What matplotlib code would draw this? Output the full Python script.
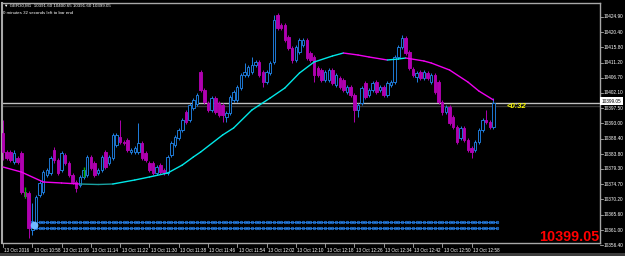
import matplotlib
matplotlib.use('Agg')
import matplotlib.pyplot as plt
from matplotlib.patches import Rectangle

plt.rcParams['font.family'] = ['Liberation Sans', 'DejaVu Sans']

# GER30 M1 bars, 13 Oct 10:50 .. 13:04 (one entry per minute)
opens = [10390.1, 10384.4, 10384.4, 10381.4, 10382.6, 10384.1, 10372.4, 10372.1, 10361.0, 10361.9,
         10371.5, 10372.4, 10377.5, 10378.1, 10385.0, 10382.0, 10379.0, 10383.5, 10381.1, 10377.5,
         10375.4, 10374.5, 10376.9, 10377.5, 10382.9, 10381.1, 10378.1, 10379.0, 10384.4, 10381.1,
         10382.6, 10386.5, 10388.9, 10387.4, 10388.0, 10384.4, 10384.4, 10384.4, 10387.1, 10384.1,
         10381.1, 10381.1, 10378.1, 10380.5, 10379.0, 10378.1, 10383.5, 10386.5, 10388.6, 10391.0,
         10396.4, 10394.0, 10397.6, 10398.8, 10408.4, 10403.0, 10399.1, 10397.0, 10400.6, 10399.1,
         10398.5, 10394.9, 10396.1, 10400.0, 10400.0, 10403.6, 10407.5, 10407.5, 10408.4, 10410.5,
         10411.4, 10408.4, 10405.4, 10408.1, 10411.4, 10425.5, 10422.5, 10422.5, 10418.9, 10415.6,
         10412.0, 10414.4, 10416.5, 10418.0, 10414.1, 10412.9, 10409.6, 10409.0, 10406.0, 10406.0,
         10409.0, 10404.5, 10406.6, 10406.0, 10402.4, 10403.9, 10401.5, 10397.0, 10399.1, 10405.1,
         10401.5, 10403.0, 10405.4, 10403.0, 10403.9, 10401.5, 10404.5, 10405.4, 10412.9, 10415.9,
         10418.6, 10414.4, 10409.3, 10406.9, 10408.4, 10406.6, 10408.1, 10405.4, 10407.5, 10405.4,
         10399.4, 10396.4, 10397.9, 10394.9, 10391.9, 10388.6, 10391.6, 10388.0, 10385.6, 10385.0,
         10387.4, 10391.0, 10394.0, 10393.4, 10391.9]
closes = [10384.4, 10382.6, 10382.0, 10384.1, 10381.4, 10372.4, 10371.2, 10361.6, 10362.5, 10370.9,
          10375.1, 10378.4, 10379.0, 10382.6, 10382.0, 10378.1, 10384.1, 10381.1, 10377.5, 10375.4,
          10373.6, 10376.9, 10379.0, 10382.9, 10379.6, 10377.5, 10379.0, 10382.9, 10379.9, 10382.9,
          10389.5, 10389.5, 10387.4, 10387.1, 10385.0, 10385.0, 10385.6, 10387.1, 10382.6, 10382.0,
          10379.0, 10378.1, 10379.9, 10378.4, 10378.1, 10382.9, 10387.1, 10388.9, 10391.0, 10394.0,
          10393.4, 10398.5, 10400.0, 10401.5, 10403.0, 10399.4, 10397.0, 10400.6, 10396.4, 10395.5,
          10395.5, 10396.1, 10400.9, 10402.4, 10403.9, 10407.5, 10408.4, 10409.9, 10410.5, 10411.4,
          10407.5, 10405.4, 10408.4, 10411.1, 10424.0, 10421.6, 10421.6, 10418.0, 10415.6, 10412.0,
          10415.9, 10418.0, 10418.0, 10412.6, 10412.0, 10407.5, 10407.5, 10406.0, 10408.4, 10409.0,
          10405.1, 10407.5, 10403.9, 10403.0, 10403.9, 10401.5, 10397.0, 10398.5, 10403.6, 10400.9,
          10403.0, 10405.1, 10402.4, 10403.9, 10401.5, 10405.1, 10405.4, 10412.9, 10415.9, 10418.6,
          10414.1, 10409.6, 10407.5, 10408.1, 10406.6, 10408.4, 10406.6, 10407.5, 10402.4, 10399.4,
          10396.4, 10397.9, 10393.1, 10391.9, 10387.4, 10391.6, 10388.0, 10385.0, 10384.4, 10387.4,
          10391.0, 10394.0, 10393.4, 10391.9, 10399.05]
highs = [10394.0, 10385.0, 10385.0, 10385.0, 10383.2, 10384.7, 10373.0, 10372.7, 10369.1, 10371.5,
         10375.7, 10379.0, 10379.6, 10383.2, 10385.9, 10382.6, 10384.7, 10384.1, 10381.7, 10378.1,
         10376.0, 10377.5, 10379.6, 10383.5, 10383.5, 10381.7, 10379.6, 10383.5, 10385.0, 10383.5,
         10390.1, 10390.1, 10394.0, 10388.0, 10388.6, 10385.6, 10386.2, 10393.1, 10387.7, 10384.7,
         10381.7, 10381.7, 10380.5, 10381.1, 10379.6, 10383.5, 10387.7, 10389.5, 10391.6, 10394.6,
         10397.0, 10399.1, 10400.6, 10402.1, 10409.0, 10403.6, 10399.7, 10401.2, 10401.2, 10399.7,
         10399.1, 10396.7, 10401.5, 10403.0, 10404.5, 10408.1, 10411.1, 10410.5, 10412.9, 10412.0,
         10412.0, 10409.0, 10409.0, 10411.7, 10425.5, 10426.1, 10423.1, 10423.1, 10419.5, 10416.2,
         10416.5, 10418.6, 10418.6, 10418.6, 10414.7, 10413.5, 10410.2, 10409.6, 10409.0, 10409.6,
         10409.6, 10408.1, 10407.2, 10406.6, 10404.5, 10404.5, 10402.1, 10399.1, 10404.2, 10405.7,
         10403.6, 10405.7, 10406.0, 10404.5, 10404.5, 10405.7, 10406.0, 10413.5, 10416.5, 10419.5,
         10419.2, 10415.0, 10409.9, 10408.7, 10409.0, 10409.0, 10408.7, 10408.1, 10408.1, 10406.0,
         10400.0, 10398.5, 10398.5, 10395.5, 10392.5, 10392.2, 10392.2, 10388.6, 10386.2, 10388.0,
         10391.6, 10394.6, 10397.0, 10394.0, 10400.6]
lows = [10382.0, 10382.0, 10381.4, 10380.8, 10380.8, 10371.8, 10370.6, 10358.6, 10359.5, 10361.3,
        10370.9, 10371.8, 10376.9, 10377.5, 10381.1, 10377.5, 10378.4, 10380.5, 10376.9, 10374.8,
        10372.4, 10373.9, 10376.3, 10376.9, 10379.0, 10376.9, 10377.5, 10378.4, 10379.3, 10380.5,
        10382.0, 10385.9, 10386.8, 10386.5, 10384.4, 10383.8, 10383.8, 10383.8, 10382.0, 10381.4,
        10378.4, 10377.5, 10377.5, 10377.8, 10377.5, 10377.5, 10382.9, 10385.9, 10388.0, 10390.4,
        10392.8, 10393.4, 10397.0, 10398.2, 10402.4, 10398.8, 10396.4, 10396.4, 10395.8, 10394.9,
        10393.4, 10393.4, 10395.5, 10399.4, 10399.4, 10403.0, 10406.9, 10406.9, 10407.8, 10409.9,
        10406.9, 10403.9, 10404.8, 10407.5, 10410.8, 10421.0, 10421.0, 10417.4, 10415.0, 10411.1,
        10411.4, 10413.8, 10415.9, 10412.0, 10411.4, 10405.4, 10406.9, 10405.4, 10405.4, 10405.4,
        10404.5, 10403.9, 10403.3, 10402.4, 10401.8, 10400.9, 10393.4, 10394.9, 10398.5, 10400.3,
        10400.9, 10402.4, 10401.8, 10402.4, 10400.9, 10400.9, 10403.9, 10404.8, 10412.3, 10415.3,
        10413.5, 10409.0, 10406.9, 10405.4, 10406.0, 10406.0, 10406.0, 10404.8, 10401.8, 10398.8,
        10395.5, 10395.8, 10392.5, 10391.3, 10386.8, 10388.0, 10387.4, 10384.4, 10382.6, 10384.4,
        10386.8, 10390.4, 10392.8, 10391.3, 10391.3]

# moving average (bar index, value)
ma_bars = [0, 5, 11, 16, 21, 26, 30, 36, 40, 45, 49, 52, 54, 60, 63, 68, 73, 77, 81, 85,
           90, 93, 97, 100, 105, 108, 110, 115, 117, 122, 127, 130, 134]
ma_values = [10379.9, 10378.4, 10375.4, 10375.1, 10374.8, 10374.65, 10374.8, 10376.0, 10376.9, 10378.1,
             10380.5, 10382.9, 10384.4, 10389.5, 10391.6, 10397.0, 10400.6, 10403.6, 10408.1, 10411.4,
             10413.2, 10414.1, 10413.5, 10412.9, 10412.0, 10412.3, 10412.6, 10411.7, 10411.1, 10409.0,
             10405.4, 10402.7, 10400.0]

# the two dotted blue levels near the bottom
band_levels = [10363.4, 10361.6]
band_start = 8
band_end = 135

# small green signal marks
signal_bars = [6, 22]
signal_low = [10370.6, 10376.9]
signal_high = [10373.9, 10379.9]

time_tick_bars = [0, 8, 16, 24, 32, 40, 48, 56, 64, 72, 80, 88, 96, 104, 112, 120, 128]
time_labels = ['13 Oct 2016', '13 Oct 10:58', '13 Oct 11:06', '13 Oct 11:14', '13 Oct 11:22',
               '13 Oct 11:30', '13 Oct 11:38', '13 Oct 11:46', '13 Oct 11:54', '13 Oct 12:02',
               '13 Oct 12:10', '13 Oct 12:18', '13 Oct 12:26', '13 Oct 12:34', '13 Oct 12:42',
               '13 Oct 12:50', '13 Oct 12:58']
price_labels = [10424.90, 10420.40, 10415.80, 10411.20, 10406.70, 10402.10, 10397.50, 10393.00,
                10388.40, 10383.80, 10379.30, 10374.70, 10370.20, 10365.60, 10361.00, 10356.40]

last_price = 10399.05
ask_price = 10398.1
header = u'\u25bc GER30,M1  10391.60 10400.65 10391.60 10399.05'

BULL = '#1f7fe0'
BEAR = '#b000b0'
W, H = 625.0, 256.0


def draw_candles(ax):
    for i in range(len(opens)):
        o, c = opens[i], closes[i]
        col = BULL if c >= o else BEAR
        ax.vlines(i, lows[i], highs[i], color=col, lw=0.7, zorder=3)
        h = abs(c - o)
        if h < 0.3:
            h = 0.3
        face = 'black' if c >= o else BEAR
        ax.add_patch(Rectangle((i - 0.34, min(o, c)), 0.68, h, facecolor=face,
                               edgecolor=col, lw=0.65, zorder=4))


def draw_ma(ax):
    for k in range(len(ma_bars) - 1):
        slope = (ma_values[k + 1] - ma_values[k]) / (ma_bars[k + 1] - ma_bars[k])
        if slope > 0.04:
            col = '#00e8e8'
        elif slope < -0.04:
            col = '#f000f0'
        else:
            col = '#1aa0a0'
        ax.plot(ma_bars[k:k + 2], ma_values[k:k + 2], color=col, lw=1.0, zorder=5,
                solid_capstyle='round')


def main():
    fig = plt.figure(figsize=(6.25, 2.56), dpi=100, facecolor='black')
    ax = fig.add_axes([2 / W, 13 / H, 598 / W, 240 / H])
    ax.set_facecolor('black')
    ax.set_xlim(-0.27, 163.1)
    ax.set_ylim(10357.1, 10429.1)
    ax.set_xticks([])
    ax.set_yticks([])
    for s in ax.spines.values():
        s.set_color('#a8a8a8')
        s.set_linewidth(1)
    ax.spines['left'].set_linewidth(1.5)

    # bid / ask lines
    ax.axhline(last_price, color='#c0c0c0', lw=1, zorder=2)
    ax.axhline(ask_price, color='#383838', lw=1, zorder=1)

    draw_candles(ax)
    draw_ma(ax)

    for i in range(len(signal_bars)):
        ax.vlines(signal_bars[i], signal_low[i], signal_high[i], color='#00b000', lw=1, zorder=4)

    bars = list(range(band_start, band_end + 1))
    for lvl in band_levels:
        ax.plot(bars, [lvl] * len(bars), color='#2a8cff', lw=0.5, marker='o', ms=1.8,
                mfc='none', mew=0.5, zorder=3)
    ax.plot([band_start + 0.5], [sum(band_levels) / 2], 'o', color='#70b8ff', ms=4.5, zorder=4)

    # time axis
    xt = ax.get_xaxis_transform()
    for b, lab in zip(time_tick_bars, time_labels):
        ax.plot([b, b], [0, -4 / 240.0], color='#d0d0d0', lw=0.5, transform=xt, clip_on=False)
        ax.text(b + 0.4, -7 / 240.0, lab, transform=xt, fontsize=3.3, color='white',
                ha='left', va='center')

    # price axis
    yt = ax.get_yaxis_transform()
    for p in price_labels:
        ax.plot([1, 1 + 3 / 598.0], [p, p], color='#d0d0d0', lw=0.5, transform=yt, clip_on=False)
        ax.text(1 + 4 / 598.0, p, '%.2f' % p, transform=yt, fontsize=3.4, color='white',
                ha='left', va='center')

    fig.patches.append(Rectangle((600 / W, 1 - 105 / H), 23 / W, 8 / H, transform=fig.transFigure,
                                 facecolor='white', edgecolor='none', zorder=10))
    fig.text(602 / W, 1 - 101.5 / H, '%.2f' % last_price, fontsize=3.4, color='black',
             ha='left', va='center', zorder=11)

    # header and labels
    fig.text(4 / W, 1 - 6 / H, header, fontsize=3.2, color='white', va='center')
    fig.text(3 / W, 1 - 13 / H, '0 minutes 32 seconds left to bar end', fontsize=3.2,
             color='white', va='center')
    fig.text(507 / W, 1 - 107 / H, '<0:32', fontsize=5.5, color='#ffff00', weight='bold',
             style='italic', va='center')
    fig.text(599 / W, 1 - 241 / H, '%.2f' % last_price, fontsize=10.4, color='#ff0000',
             weight='bold', ha='right', va='baseline')

    # window frame bits
    fig.patches.append(Rectangle((0, 0), 1, 3 / H, transform=fig.transFigure,
                                 facecolor='#3c3c3c', edgecolor='none'))

    fig.savefig('out.png', dpi=100, facecolor='black')


if __name__ == '__main__':
    main()
